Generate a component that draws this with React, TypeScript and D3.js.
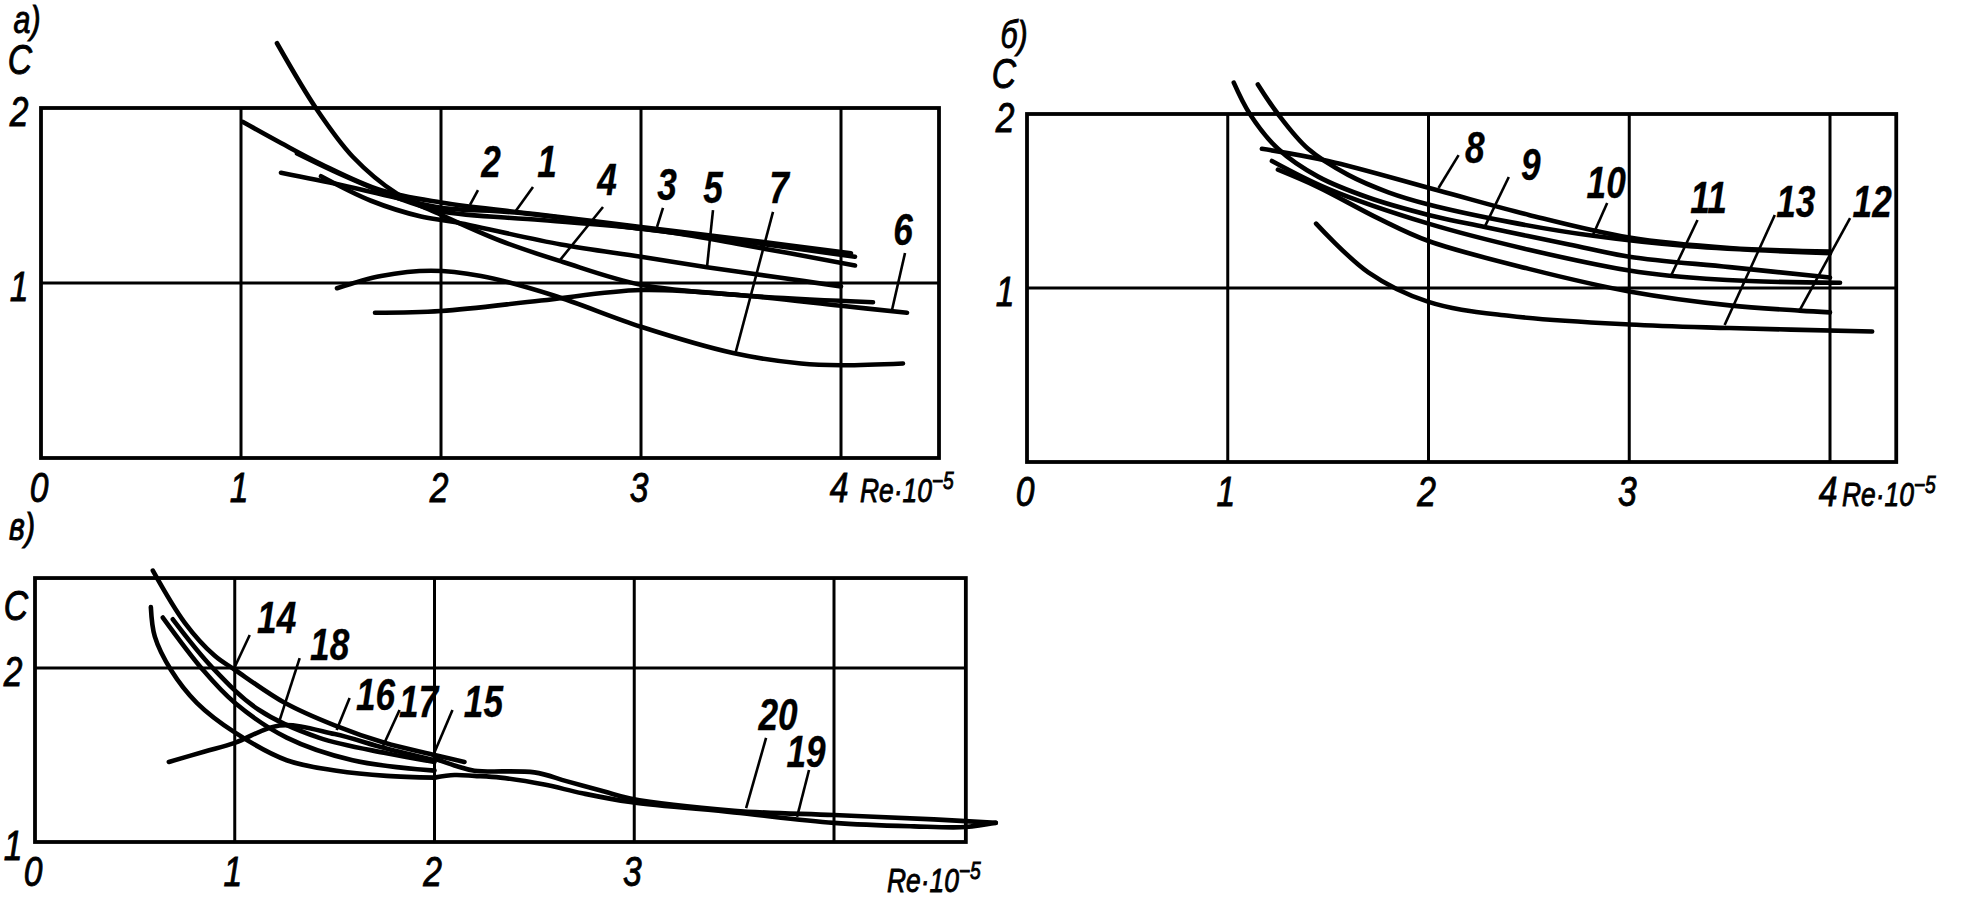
import React from 'react';
import * as d3 from 'd3';

type Pt = [number, number];
// [text, labelRe, labelC, leaderFromRe, leaderFromC, leaderToRe, leaderToC]
type Note = [string, number, number, number, number, number, number];

// ---- panel а) ----
const reTicks = [0, 1, 2, 3, 4];
const curve1: Pt[] = [[1.2, 1.63], [1.5, 1.56], [1.8, 1.48], [2.0, 1.43], [2.4, 1.40], [3.0, 1.31], [3.5, 1.24], [4.07, 1.15]];
const curve2: Pt[] = [[1.01, 1.92], [1.2, 1.80], [1.4, 1.68], [1.7, 1.53], [2.0, 1.46], [2.5, 1.39], [3.0, 1.32], [3.5, 1.25], [4.05, 1.17]];
const curve3: Pt[] = [[1.28, 1.74], [1.5, 1.62], [1.75, 1.50], [2.0, 1.41], [2.5, 1.36], [3.08, 1.30], [3.5, 1.22], [4.07, 1.10]];
const curve4: Pt[] = [[1.18, 2.37], [1.38, 1.99], [1.56, 1.72], [1.78, 1.51], [1.98, 1.40], [2.3, 1.24], [2.61, 1.12], [3.0, 0.99], [3.5, 0.93], [4.16, 0.89]];
const curve5: Pt[] = [[1.4, 1.61], [1.65, 1.47], [1.9, 1.38], [2.06, 1.35], [2.6, 1.22], [3.0, 1.15], [3.33, 1.09], [3.7, 1.03], [4.0, 0.98]];
const curve6: Pt[] = [[1.67, 0.83], [2.0, 0.84], [2.5, 0.90], [3.0, 0.96], [3.5, 0.93], [4.0, 0.87], [4.33, 0.83]];
const curve7: Pt[] = [[1.48, 0.97], [1.7, 1.04], [1.95, 1.07], [2.2, 1.04], [2.56, 0.93], [3.0, 0.75], [3.46, 0.60], [3.8, 0.54], [4.0, 0.53], [4.31, 0.54]];
const notesA: Note[] = [
  ['2', 2.25, 1.606, 2.185, 1.531, 2.145, 1.446],
  ['1', 2.53, 1.606, 2.46, 1.549, 2.37, 1.406],
  ['4', 2.83, 1.503, 2.81, 1.434, 2.595, 1.131],
  ['3', 3.13, 1.474, 3.11, 1.429, 3.08, 1.32],
  ['5', 3.36, 1.457, 3.36, 1.417, 3.33, 1.091],
  ['7', 3.69, 1.457, 3.66, 1.406, 3.47, 0.589],
  ['6', 4.31, 1.217, 4.32, 1.171, 4.255, 0.846],
];

// ---- panel б) ----
const curve8: Pt[] = [[1.17, 1.80], [1.5, 1.73], [2.05, 1.56], [2.5, 1.42], [3.0, 1.29], [3.5, 1.23], [4.0, 1.21]];
const curve9: Pt[] = [[1.03, 2.18], [1.11, 2.0], [1.25, 1.80], [1.45, 1.64], [1.7, 1.52], [2.0, 1.42], [2.28, 1.35], [2.7, 1.25], [3.0, 1.18], [3.5, 1.12], [4.0, 1.06]];
const curve10: Pt[] = [[1.15, 2.17], [1.25, 2.0], [1.4, 1.80], [1.6, 1.65], [1.8, 1.55], [2.0, 1.48], [2.4, 1.38], [2.82, 1.30], [3.3, 1.24], [4.0, 1.20]];
const curve11: Pt[] = [[1.22, 1.73], [1.5, 1.57], [2.0, 1.37], [2.5, 1.22], [3.0, 1.10], [3.2, 1.07], [3.6, 1.04], [4.05, 1.03]];
const curve12: Pt[] = [[1.25, 1.68], [1.45, 1.58], [1.75, 1.40], [2.0, 1.27], [2.5, 1.11], [3.0, 0.98], [3.5, 0.90], [3.85, 0.87], [4.0, 0.86]];
const curve13: Pt[] = [[1.44, 1.37], [1.7, 1.09], [2.0, 0.92], [2.4, 0.84], [3.0, 0.79], [3.5, 0.77], [4.21, 0.75]];
const notesB: Note[] = [
  ['8', 2.23, 1.718, 2.15, 1.764, 2.05, 1.575],
  ['9', 2.51, 1.621, 2.40, 1.638, 2.28, 1.351],
  ['10', 2.885, 1.517, 2.89, 1.489, 2.815, 1.293],
  ['11', 3.395, 1.431, 3.34, 1.391, 3.205, 1.063],
  ['13', 3.83, 1.408, 3.725, 1.42, 3.475, 0.787],
  ['12', 4.21, 1.408, 4.10, 1.402, 3.85, 0.874],
];

// ---- panel в) ----
const reTicksC = [0, 1, 2, 3];
const curve14: Pt[] = [[0.59, 2.56], [0.75, 2.26], [0.9, 2.07], [1.0, 1.99], [1.25, 1.80], [1.5, 1.67], [1.75, 1.57], [2.0, 1.50], [2.15, 1.46]];
const curve15: Pt[] = [[0.58, 2.35], [0.6, 2.18], [0.68, 1.99], [0.81, 1.80], [1.0, 1.63], [1.26, 1.47], [1.51, 1.41], [1.76, 1.38], [2.0, 1.37]];
const curve16: Pt[] = [[0.64, 2.29], [0.84, 1.99], [1.0, 1.80], [1.26, 1.60], [1.59, 1.47], [2.0, 1.41]];
const curve17: Pt[] = [[0.69, 2.28], [0.89, 2.0], [1.12, 1.76], [1.42, 1.60], [1.76, 1.51], [2.0, 1.46]];
const curve18: Pt[] = [[0.67, 1.46], [0.85, 1.52], [1.0, 1.57], [1.225, 1.67], [1.5, 1.62], [1.75, 1.54], [2.0, 1.47]];
const curve19: Pt[] = [[2.0, 1.37], [2.1, 1.385], [2.2, 1.38], [2.33, 1.37], [2.55, 1.33], [2.74, 1.28], [2.98, 1.23], [3.5, 1.17], [4.0, 1.11], [4.4, 1.09], [4.66, 1.086], [4.81, 1.11]];
const curve20: Pt[] = [[2.0, 1.48], [2.1, 1.44], [2.2, 1.41], [2.5, 1.40], [2.66, 1.35], [2.85, 1.29], [2.98, 1.25], [3.5, 1.18], [4.0, 1.155], [4.5, 1.13], [4.81, 1.11]];
const notesC: Note[] = [
  ['14', 1.21, 2.201, 1.075, 2.19, 1.0, 2.006],
  ['18', 1.475, 2.046, 1.325, 2.057, 1.225, 1.701],
  ['16', 1.705, 1.759, 1.575, 1.828, 1.51, 1.644],
  ['17', 1.92, 1.718, 1.825, 1.759, 1.74, 1.546],
  ['15', 2.245, 1.718, 2.09, 1.759, 1.99, 1.489],
  ['20', 3.72, 1.644, 3.66, 1.598, 3.56, 1.195],
  ['19', 3.86, 1.431, 3.875, 1.414, 3.815, 1.144],
];

const FONT = "'Liberation Sans', Arial, sans-serif";
const NARROW = 0.8;

const line = d3.line<Pt>().curve(d3.curveCatmullRom.alpha(0.5));

// italic narrow text, squeezed horizontally around its anchor
function T({ x, y, size, anchor = 'middle', weight = 'normal', children }: any) {
  return (
    <text
      transform={`translate(${x},${y}) scale(${NARROW},1)`}
      textAnchor={anchor}
      fontSize={size}
      fontWeight={weight}
      fontStyle="italic"
      fontFamily={FONT}
      stroke="#000"
      strokeWidth={weight === 'bold' ? 0.3 : 0.9}
    >
      {children}
    </text>
  );
}

function Panel(props: any) {
  const { xr, yr, cDom, reMax, cTop, gridC, ticksRe, ticksC, curves, notes, tag, cTitle, reTitle } = props;
  const x = d3.scaleLinear().domain([0, 4]).range(xr);
  const y = d3.scaleLinear().domain(cDom).range(yr);
  const lineGen = line.x((d) => x(d[0])).y((d) => y(d[1]));
  const left = x(0), right = x(reMax), top = y(cTop), bottom = y(cDom[0]);
  return (
    <g fill="#000">
      <rect x={left} y={top} width={right - left} height={bottom - top} fill="none" stroke="#000" strokeWidth={3.8} />
      {[1, 2, 3, 4].map((v) => (
        <line key={'gx' + v} x1={x(v)} x2={x(v)} y1={top} y2={bottom} stroke="#000" strokeWidth={3} />
      ))}
      {gridC.map((v: number) => (
        <line key={'gy' + v} x1={left} x2={right} y1={y(v)} y2={y(v)} stroke="#000" strokeWidth={3} />
      ))}
      {curves.map((c: Pt[], i: number) => (
        <path key={'c' + i} d={lineGen(c) || ''} fill="none" stroke="#000" strokeWidth={4.6} strokeLinecap="round" />
      ))}
      {notes.map((n: Note) => (
        <g key={'n' + n[0]}>
          <line x1={x(n[3])} y1={y(n[4])} x2={x(n[5])} y2={y(n[6])} stroke="#000" strokeWidth={2.6} />
          <T x={x(n[1])} y={y(n[2])} size={44} weight="bold">{n[0]}</T>
        </g>
      ))}
      {ticksRe.map((v: number) => (
        <T key={'tx' + v} x={x(v) - 2} y={bottom + 44} size={42}>{v}</T>
      ))}
      {ticksC.map((v: number) => (
        <T key={'ty' + v} x={left - 22} y={y(v) + 18} size={42}>{v}</T>
      ))}
      <T x={tag[0]} y={tag[1]} size={38}>{tag[2]}</T>
      <T x={cTitle[0]} y={cTitle[1]} size={42}>C</T>
      <T x={reTitle[0]} y={reTitle[1]} size={33} anchor="start">
        Re·10<tspan dy={-13} fontSize={24}>−5</tspan>
      </T>
    </g>
  );
}

export default function App() {
  return (
    <svg width={1964} height={899} style={{ position: 'absolute', left: 0, top: 0, background: '#fff' }}>
      <rect width={1964} height={899} fill="#fff" />
      <Panel
        xr={[41, 841]} yr={[458, 108]} cDom={[0, 2]} reMax={4.49} cTop={2} gridC={[1]}
        ticksRe={reTicks} ticksC={[1, 2]}
        curves={[curve1, curve2, curve3, curve4, curve5, curve6, curve7]} notes={notesA}
        tag={[27, 33, 'а)']} cTitle={[20, 74]} reTitle={[860, 502]}
      />
      <Panel
        xr={[1027, 1830]} yr={[462, 114]} cDom={[0, 2]} reMax={4.33} cTop={2} gridC={[1]}
        ticksRe={reTicks} ticksC={[1, 2]}
        curves={[curve8, curve9, curve10, curve11, curve12, curve13]} notes={notesB}
        tag={[1014, 48, 'б)']} cTitle={[1004, 88]} reTitle={[1842, 506]}
      />
      <Panel
        xr={[35, 834]} yr={[842, 668]} cDom={[1, 2]} reMax={4.66} cTop={2.517} gridC={[2]}
        ticksRe={reTicksC} ticksC={[1, 2]}
        curves={[curve14, curve15, curve16, curve17, curve18, curve19, curve20]} notes={notesC}
        tag={[22, 540, 'в)']} cTitle={[16, 620]} reTitle={[887, 892]}
      />
    </svg>
  );
}
